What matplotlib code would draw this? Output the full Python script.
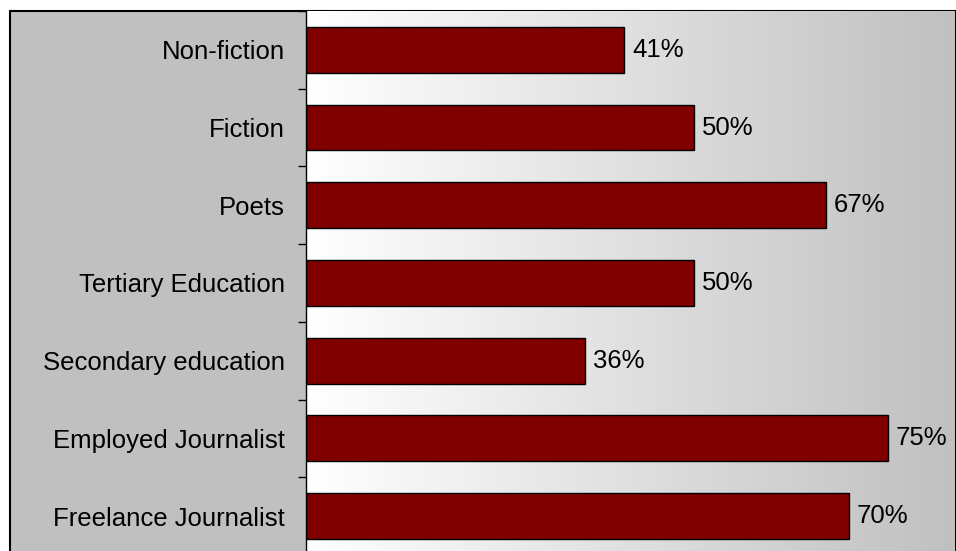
import numpy as np
import matplotlib.pyplot as plt
from matplotlib.patches import Rectangle
from matplotlib.colors import LinearSegmentedColormap

plt.rcParams['font.family'] = ['Liberation Sans', 'DejaVu Sans']

categories = ['Non-fiction', 'Fiction', 'Poets', 'Tertiary Education',
              'Secondary education', 'Employed Journalist', 'Freelance Journalist']
values = [41, 50, 67, 50, 36, 75, 70]

W, H = 956, 551
fig = plt.figure(figsize=(W / 100, H / 100), dpi=100, facecolor='white')

# grey chart panel with a black frame, running off the bottom edge
fig.patches.append(Rectangle((10 / W, -0.1), (955 - 10) / W, 1.1 - 11 / H,
                             transform=fig.transFigure, facecolor='#c0c0c0',
                             edgecolor='black', linewidth=1.5, zorder=-1))

# plot area: x from 306px, top at 11px, one slot per category (77.7px)
slot = 77.7
top = 11
bottom = top + slot * len(categories)
ax = fig.add_axes([306 / W, 1 - bottom / H, (955 - 306) / W, (bottom - top) / H])
ax.set_zorder(1)
ax.set_facecolor('none')

xmax = (955 - 306) / 7.76
ax.set_xlim(0, xmax)
ax.set_ylim(len(categories) - 0.5, -0.5)

# horizontal white-to-grey fill behind the bars
cmap = LinearSegmentedColormap.from_list('bg', ['#ffffff', '#c0c0c0'])
grad = np.linspace(0, 1, 256).reshape(1, -1)
ax.imshow(grad, cmap=cmap, aspect='auto', extent=[0, xmax, len(categories) - 0.5, -0.5],
          zorder=0)

y = np.arange(len(categories))
ax.barh(y, values, height=0.59, color='#800000', edgecolor='black', linewidth=1, zorder=2)
for yi, v in zip(y, values):
    ax.text(v + 1.0, yi, f'{v}%', va='center', ha='left', fontsize=18.5, zorder=3)

for s in ['top', 'right', 'bottom']:
    ax.spines[s].set_visible(False)
ax.spines['left'].set_color('black')
ax.spines['left'].set_linewidth(1)

ax.set_xticks([])
ax.set_yticks(y)
ax.set_yticklabels(categories, fontsize=18.5)
ax.tick_params(axis='y', which='major', length=0, pad=15)
ax.set_yticks(np.arange(len(categories) + 1) - 0.5, minor=True)
ax.tick_params(axis='y', which='minor', length=6, width=1, color='black')

fig.savefig('out.png', dpi=100)
